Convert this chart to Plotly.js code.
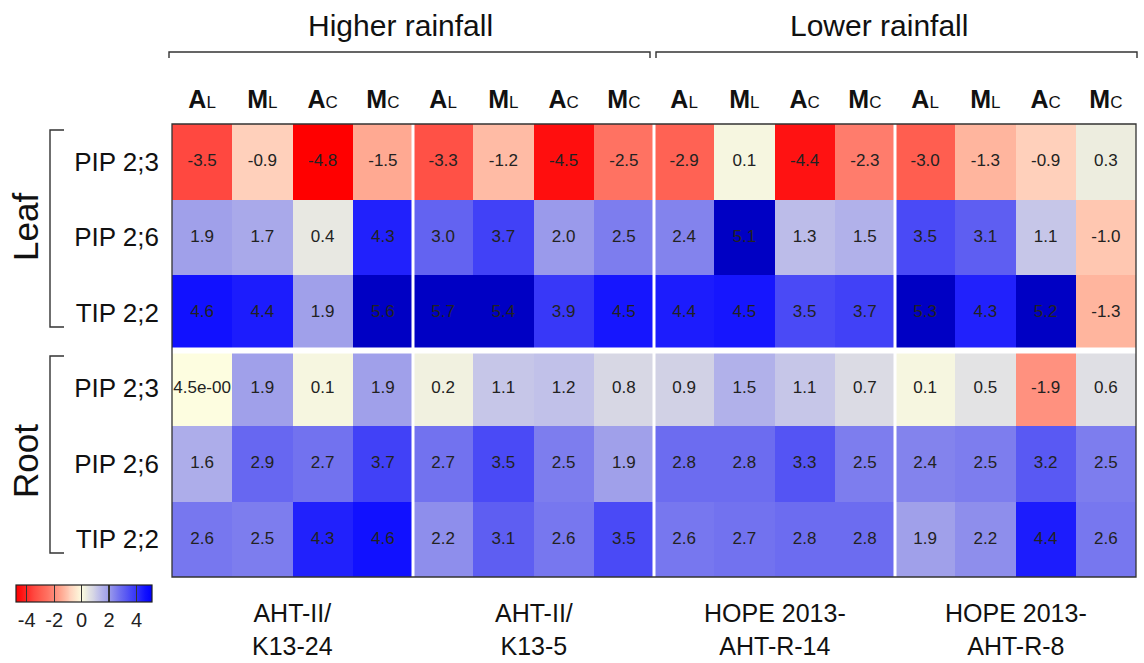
<!DOCTYPE html>
<html>
<head>
<meta charset="utf-8">
<script src="https://cdn.plot.ly/plotly-3.0.1.min.js"></script>
<style>html,body{margin:0;padding:0;background:#fff;}#chart{width:1144px;height:663px;}</style>
</head>
<body>
<div id="chart"></div>
<script>
// ---- data ----
const columnLetters = ["A","M","A","M","A","M","A","M","A","M","A","M","A","M","A","M"];
const columnSubs    = ["L","L","C","C","L","L","C","C","L","L","C","C","L","L","C","C"];
const genes  = ["PIP 2;3","PIP 2;6","TIP 2;2","PIP 2;3","PIP 2;6","TIP 2;2"];
const tissues = ["Leaf","Root"];
const rainfall = ["Higher rainfall","Lower rainfall"];
const strains = ["AHT-II/<br>K13-24","AHT-II/<br>K13-5","HOPE 2013-<br>AHT-R-14","HOPE 2013-<br>AHT-R-8"];

const leafPIP23 = [-3.5,-0.9,-4.8,-1.5, -3.3,-1.2,-4.5,-2.5, -2.9,0.1,-4.4,-2.3, -3.0,-1.3,-0.9,0.3];
const leafPIP26 = [1.9,1.7,0.4,4.3, 3.0,3.7,2.0,2.5, 2.4,5.1,1.3,1.5, 3.5,3.1,1.1,-1.0];
const leafTIP22 = [4.6,4.4,1.9,5.6, 5.7,5.4,3.9,4.5, 4.4,4.5,3.5,3.7, 5.3,4.3,5.2,-1.3];
const rootPIP23 = [0.0045,1.9,0.1,1.9, 0.2,1.1,1.2,0.8, 0.9,1.5,1.1,0.7, 0.1,0.5,-1.9,0.6];
const rootPIP26 = [1.6,2.9,2.7,3.7, 2.7,3.5,2.5,1.9, 2.8,2.8,3.3,2.5, 2.4,2.5,3.2,2.5];
const rootTIP22 = [2.6,2.5,4.3,4.6, 2.2,3.1,2.6,3.5, 2.6,2.7,2.8,2.8, 1.9,2.2,4.4,2.6];
const labelOverrides = {"3,0": "4.5e-00"};

const colorTicks = [-4,-2,0,2,4];
const colorTickText = ["-4","-2","0","2","4"];

// ---- build ----
const Z = [leafPIP23, leafPIP26, leafTIP22, rootPIP23, rootPIP26, rootTIP22];
const nCols = columnLetters.length, nRows = Z.length;
const xs = columnLetters.map((_, i) => i);
const ys = Z.map((_, j) => j);

const zmin = -4.8, zmax = 5.1;
const stops = [
  [-4.8,'#ff0000'],[-4.4,'#ff1212'],[-3.5,'#ff4840'],[-3.0,'#ff5e50'],[-2.5,'#ff7262'],
  [-1.9,'#ff917f'],[-1.5,'#ffa992'],[-1.0,'#ffc7b1'],[-0.9,'#ffd0bb'],[0,'#fdfde0'],
  [0.1,'#f6f6e0'],[0.3,'#ededdf'],[0.5,'#e3e3e4'],[0.8,'#d7d7e4'],[1.1,'#c6c6e8'],
  [1.5,'#b1b1ea'],[1.9,'#a0a0ea'],[2.2,'#8e8eec'],[2.5,'#7d7dee'],[2.8,'#6c6cf0'],
  [3.1,'#5e5ef2'],[3.5,'#4a4af6'],[3.9,'#3838f8'],[4.3,'#2121fc'],[4.6,'#1111ff'],[5.1,'#0000ff']
];
const colorscale = stops.map(([v,c]) => [(v - zmin)/(zmax - zmin), c]);

const zOver = Z.map(r => r.map(v => v > 5 ? v : null));

const tx = [], ty = [], tt = [];
Z.forEach((row, j) => row.forEach((v, i) => {
  tx.push(i); ty.push(j);
  tt.push(labelOverrides[j+","+i] || v.toFixed(1));
}));

const FONT = "Liberation Sans, Arial, sans-serif";

// pixel helpers for decorative layout placement
const L = 172, R = 1136, T = 124, B = 577;
const px = p => (p - L) / (R - L);
const py = p => (B - p) / (B - T);

const traces = [
  {type:'heatmap', x: xs, y: ys, z: Z, zmin, zmax, colorscale, zsmooth:false,
   hoverinfo:'z',
   colorbar:{orientation:'h', x: px(15.7), xanchor:'left', y: py(585), yanchor:'top',
     len:136, lenmode:'pixels', thickness:17, thicknessmode:'pixels', xpad:0, ypad:0,
     outlinewidth:1.2, outlinecolor:'#222', tickmode:'array', tickvals: colorTicks, ticktext: colorTickText,
     ticks:'inside', ticklen:17, tickwidth:1.3, tickcolor:'#333', ticklabelstandoff:3,
     tickfont:{family:FONT, size:20, color:'#222'}}},
  {type:'heatmap', x: xs, y: ys, z: zOver, zmin:0, zmax:10,
   colorscale:[[0,'#0000c4'],[1,'#0000c4']], showscale:false, zsmooth:false, hoverinfo:'skip'},
  {type:'scatter', mode:'text', x: tx, y: ty, text: tt, hoverinfo:'skip', showlegend:false,
   textfont:{family:FONT, size:17, color:'#222'}, cliponaxis:true}
];

const shapes = [];
// white dividers between strains and tissues
[3.5, 7.5, 11.5].forEach(v => shapes.push({type:'line', xref:'x', yref:'paper', x0:v, x1:v, y0:0, y1:1, line:{color:'#fff', width:3}}));
shapes.push({type:'line', xref:'paper', yref:'y', x0:0, x1:1, y0:2.5, y1:2.5, line:{color:'#fff', width:6}});
// plot border
shapes.push({type:'rect', xref:'paper', yref:'paper', x0:0, x1:1, y0:0, y1:1, line:{color:'#333', width:1.3}});
// top brackets
const bLine = {color:'#333', width:1.4};
[[169,650],[656,1137]].forEach(([a,b]) => {
  shapes.push({type:'path', xref:'paper', yref:'paper',
    path:`M ${px(a)} ${py(58)} L ${px(a)} ${py(52)} L ${px(b)} ${py(52)} L ${px(b)} ${py(58)}`, line:bLine});
});
// left brackets
[[130,327],[356,553]].forEach(([a,b]) => {
  shapes.push({type:'path', xref:'paper', yref:'paper',
    path:`M ${px(64)} ${py(a)} L ${px(50)} ${py(a)} L ${px(50)} ${py(b)} L ${px(64)} ${py(b)}`, line:bLine});
});

const annotations = [];
rainfall.forEach((t, k) => annotations.push({text:t, xref:'paper', yref:'paper', x: px(k===0?400:879), y: py(25),
  showarrow:false, xanchor:'center', yanchor:'middle', font:{family:FONT, size:30, color:'#111'}}));
tissues.forEach((t, k) => annotations.push({text:t, xref:'paper', yref:'paper', x: px(25), y: py(k===0?227:461),
  textangle:-90, showarrow:false, xanchor:'center', yanchor:'middle', font:{family:FONT, size:35, color:'#111'}}));
strains.forEach((t, k) => annotations.push({text:t, xref:'x', yref:'paper', x: k*4 + 1.5, y: py(629),
  showarrow:false, xanchor:'center', yanchor:'middle', font:{family:FONT, size:25, color:'#111'}}));

const layout = {
  width:1144, height:663, margin:{l:L, r:1144-R, t:T, b:663-B}, paper_bgcolor:'#fff', plot_bgcolor:'#fff',
  font:{family:FONT, size:18, color:'#222'},
  xaxis:{side:'top', range:[-0.5, nCols-0.5], tickvals: xs,
    ticktext: columnLetters.map((a,i) => `<b>${a}</b><span style="font-size:17px">${columnSubs[i]}</span>`),
    tickfont:{family:FONT, size:25, color:'#111'}, ticks:'', showgrid:false, zeroline:false, showline:false, ticklabelstandoff:10, fixedrange:true},
  yaxis:{range:[nRows-0.5, -0.5], tickvals: ys, ticktext: genes,
    tickfont:{family:FONT, size:26, color:'#111'}, ticks:'', showgrid:false, zeroline:false, showline:false, ticklabelstandoff:12, fixedrange:true},
  shapes, annotations, showlegend:false
};

Plotly.newPlot('chart', traces, layout, {displayModeBar:false, staticPlot:true});
</script>
</body>
</html>
